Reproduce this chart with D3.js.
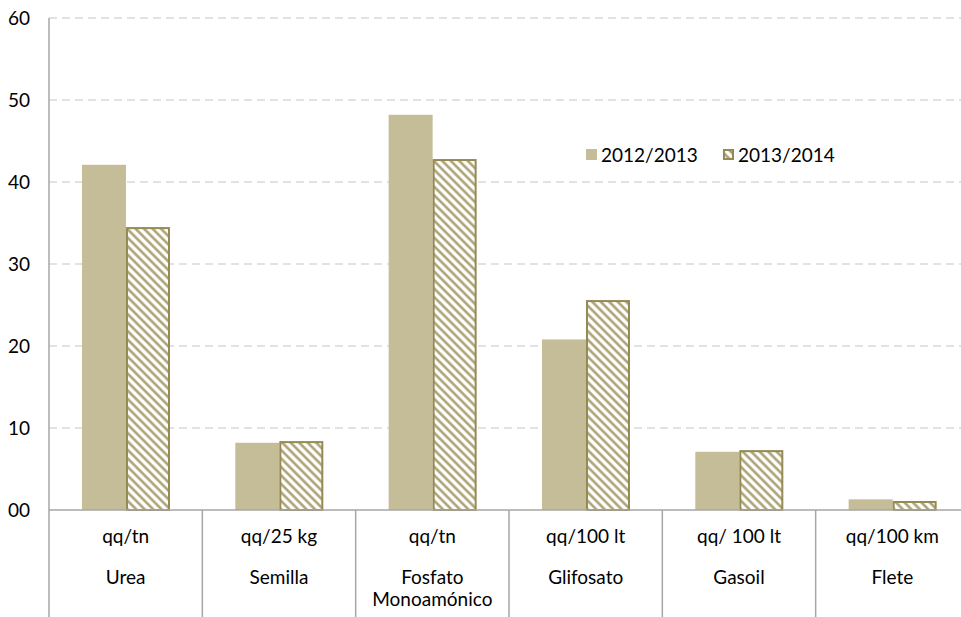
<!DOCTYPE html>
<html lang="es">
<head>
<meta charset="utf-8">
<script src="https://d3js.org/d3.v7.min.js"></script>
<style>
  body { margin: 0; background: #fff; }
  text { font-family: Lato, "Open Sans", sans-serif; font-size: 19px; fill: #000; }
</style>
</head>
<body>
<script>
// data
var categories = ['Urea', 'Semilla', 'Fosfato Monoamónico', 'Glifosato', 'Gasoil', 'Flete'];
var units = ['qq/tn', 'qq/25 kg', 'qq/tn', 'qq/100 lt', 'qq/ 100 lt', 'qq/100 km'];
var series = ['2012/2013', '2013/2014'];
var values2012 = [42.1, 8.2, 48.2, 20.8, 7.1, 1.3];
var values2013 = [34.5, 8.4, 42.8, 25.6, 7.3, 1.1];
var yTicks = [0, 10, 20, 30, 40, 50, 60];
var yTickLabels = ['00', '10', '20', '30', '40', '50', '60'];

var W = 961, H = 617;
var plotLeft = 49, plotTop = 18, baseY = 510, rightEnd = 969;

var svg = d3.select('body').append('svg')
  .attr('width', W).attr('height', H);

// diagonal hatch for the second season
var defs = svg.append('defs');
var pat = defs.append('pattern')
  .attr('id', 'hatch')
  .attr('patternUnits', 'userSpaceOnUse')
  .attr('width', 6).attr('height', 6)
  .attr('patternTransform', 'rotate(-45)');
pat.append('rect').attr('width', 6).attr('height', 6).attr('fill', '#fff');
pat.append('line')
  .attr('x1', 1.5).attr('y1', 0).attr('x2', 1.5).attr('y2', 6)
  .attr('stroke', '#a69d6c').attr('stroke-width', 2.4);

var x0 = d3.scaleBand().domain(categories).range([plotLeft, rightEnd]);
var bw = x0.bandwidth();
var x1 = d3.scaleBand().domain(series).range([bw * 0.215, bw * 0.789]);
var y = d3.scaleLinear().domain([0, 60]).range([baseY, plotTop]);

// gridlines
svg.append('g').selectAll('line')
  .data(yTicks.slice(1))
  .enter().append('line')
  .attr('x1', plotLeft).attr('x2', W)
  .attr('y1', function(d) { return y(d); })
  .attr('y2', function(d) { return y(d); })
  .attr('stroke', '#d9d9d9')
  .attr('stroke-width', 1.3)
  .attr('stroke-dasharray', '8,5');

// y tick labels
var yAxis = d3.axisLeft(y).tickValues(yTicks)
  .tickFormat(function(d, i) { return yTickLabels[i]; })
  .tickSize(0).tickPadding(19);
var gy = svg.append('g').attr('transform', 'translate(' + plotLeft + ',0)').call(yAxis);
gy.select('.domain').remove();
gy.selectAll('text').style('font-size', '19px').style('font-family', 'Lato, sans-serif');

// bars
var rows = categories.map(function(c, i) {
  return { cat: c, vals: [values2012[i], values2013[i]] };
});
var groups = svg.append('g').selectAll('g')
  .data(rows)
  .enter().append('g')
  .attr('transform', function(d) { return 'translate(' + x0(d.cat) + ',0)'; });

groups.append('rect')
  .attr('x', x1(series[0]))
  .attr('width', x1.bandwidth())
  .attr('y', function(d) { return y(d.vals[0]); })
  .attr('height', function(d) { return baseY - y(d.vals[0]); })
  .attr('fill', '#c4bd97');

groups.append('rect')
  .attr('x', x1(series[1]) + 1)
  .attr('width', x1.bandwidth() - 2)
  .attr('y', function(d) { return y(d.vals[1]) + 1; })
  .attr('height', function(d) { return baseY - y(d.vals[1]) - 1; })
  .attr('fill', 'url(#hatch)')
  .attr('stroke', '#948a54')
  .attr('stroke-width', 2);

// axes lines
svg.append('line')
  .attr('x1', plotLeft).attr('x2', W).attr('y1', baseY).attr('y2', baseY)
  .attr('stroke', '#a6a6a6').attr('stroke-width', 1.5);
svg.append('line')
  .attr('x1', plotLeft).attr('x2', plotLeft).attr('y1', plotTop).attr('y2', H)
  .attr('stroke', '#a6a6a6').attr('stroke-width', 1.5);

// category separators
svg.append('g').selectAll('line')
  .data(categories.slice(1))
  .enter().append('line')
  .attr('x1', function(d) { return x0(d); })
  .attr('x2', function(d) { return x0(d); })
  .attr('y1', baseY).attr('y2', H)
  .attr('stroke', '#a6a6a6').attr('stroke-width', 1.5);

// category labels (unit on top, product name below)
var labels = svg.append('g').selectAll('g')
  .data(categories)
  .enter().append('g')
  .attr('transform', function(d) { return 'translate(' + (x0(d) + bw / 2) + ',0)'; });

labels.append('text')
  .attr('y', 543)
  .attr('text-anchor', 'middle')
  .text(function(d, i) { return units[i]; });

labels.each(function(d) {
  var words = d.split(' ');
  var t = d3.select(this).append('text')
    .attr('text-anchor', 'middle');
  words.forEach(function(w, j) {
    t.append('tspan').attr('x', 0).attr('y', 584 + j * 22).text(w);
  });
});

// legend
var legend = svg.append('g');
legend.append('rect')
  .attr('x', 586).attr('y', 149).attr('width', 11).attr('height', 11)
  .attr('fill', '#c4bd97');
legend.append('text').attr('x', 601).attr('y', 162).text(series[0]);
legend.append('rect')
  .attr('x', 724).attr('y', 150).attr('width', 9).attr('height', 9)
  .attr('fill', 'url(#hatch)').attr('stroke', '#948a54').attr('stroke-width', 2);
legend.append('text').attr('x', 738).attr('y', 162).text(series[1]);
</script>
</body>
</html>
